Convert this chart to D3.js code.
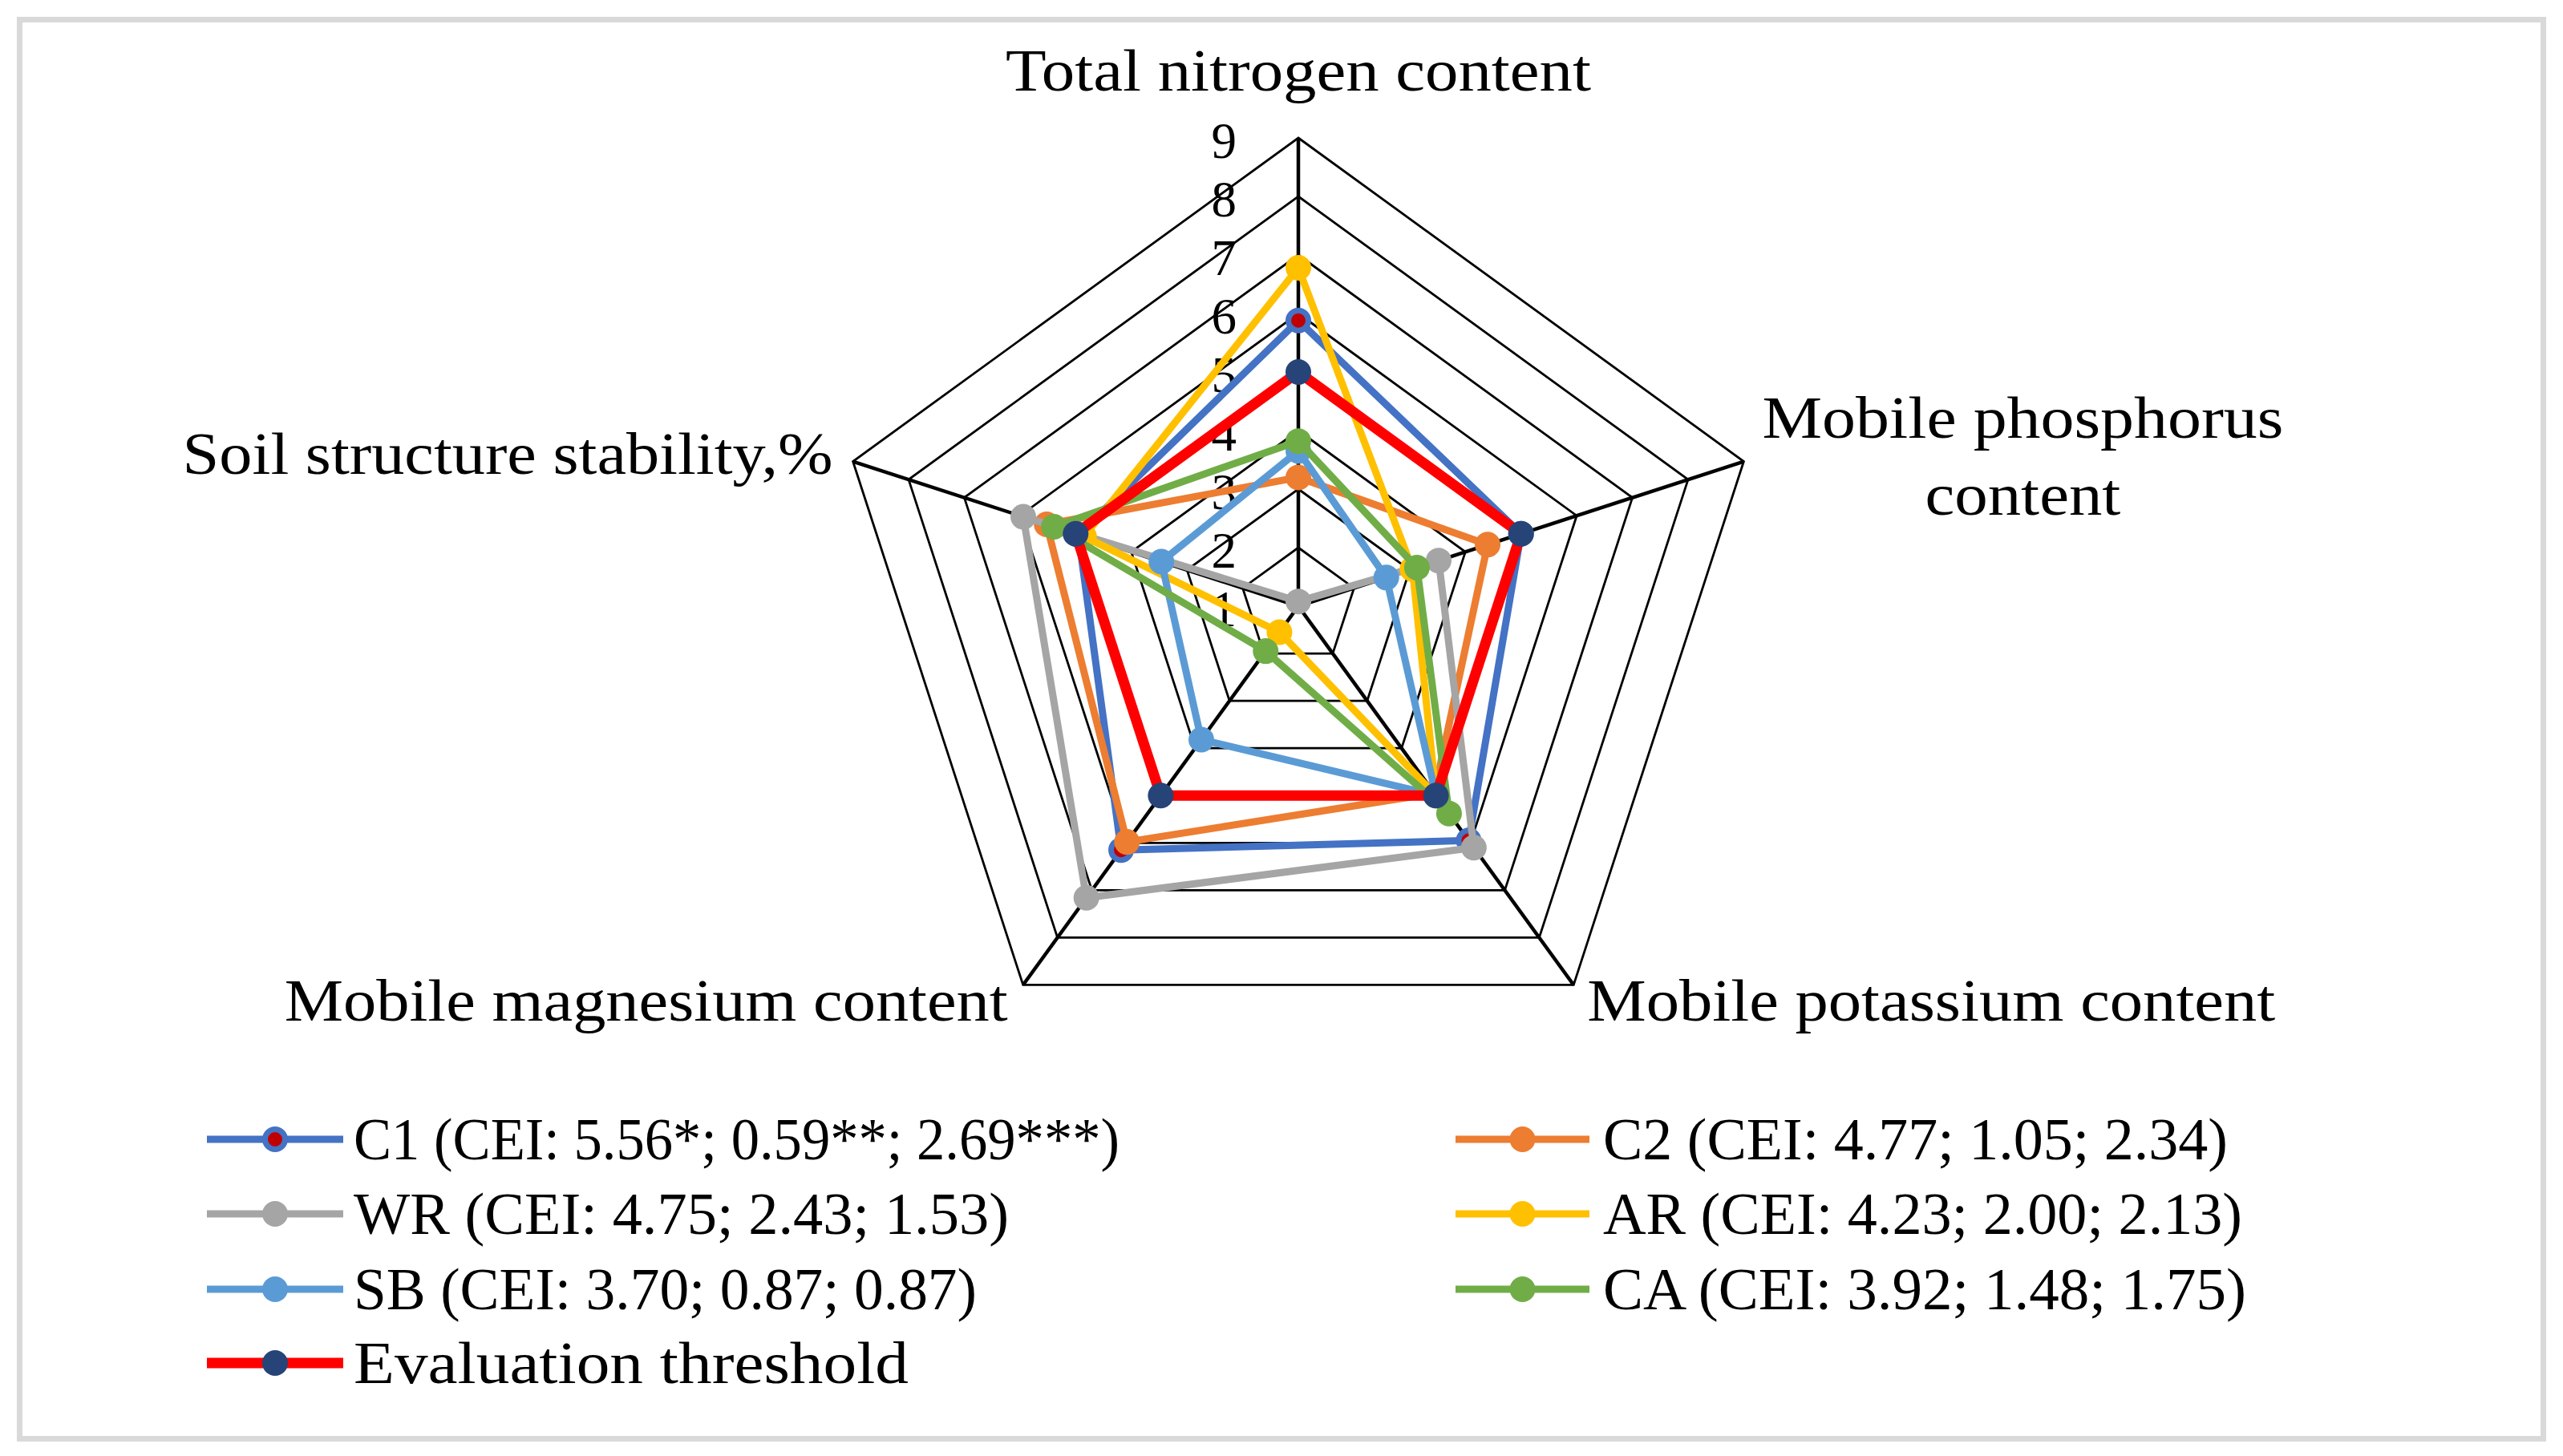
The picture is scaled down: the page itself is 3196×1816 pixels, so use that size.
<!DOCTYPE html>
<html><head><meta charset="utf-8">
<script src="https://cdn.jsdelivr.net/npm/d3@7"></script>
<style>html,body{margin:0;padding:0;background:#fff;} svg{display:block;}</style>
</head><body>
<script>
// ---------- DATA ----------
const categories = ["Total nitrogen content", "Mobile phosphorus content", "Mobile potassium content", "Mobile magnesium content", "Soil structure stability,%"];
const categoryLines = [["Total nitrogen content"], ["Mobile phosphorus", "content"], ["Mobile potassium content"], ["Mobile magnesium content"], ["Soil structure stability,%"]];
const tickValues = [1, 2, 3, 4, 5, 6, 7, 8, 9];
const seriesNames = ["C1 (CEI: 5.56*; 0.59**; 2.69***)", "C2 (CEI: 4.77; 1.05; 2.34)", "WR (CEI: 4.75; 2.43; 1.53)", "AR (CEI: 4.23; 2.00; 2.13)", "SB (CEI: 3.70; 0.87; 0.87)", "CA (CEI: 3.92; 1.48; 1.75)", "Evaluation threshold"];
const valuesC1 = [5.88, 5.00, 5.95, 6.15, 4.95];
const valuesC2 = [3.20, 4.40, 4.95, 5.98, 5.52];
const valuesWR = [1.08, 3.52, 6.10, 7.16, 5.94];
const valuesAR = [6.78, 3.05, 5.00, 1.55, 4.85];
const valuesSB = [3.65, 2.58, 5.00, 3.82, 3.46];
const valuesCA = [3.82, 3.13, 5.38, 1.95, 5.39];
const valuesThreshold = [5, 5, 5, 5, 5];

// ---------- STYLE / LAYOUT ----------
const W = 3196, H = 1816;
const cx = 1619, cy = 756, R = 584;
const FONT = "'Liberation Serif', 'Times New Roman', serif";
const styles = [
  {stroke: "#4472C4", width: 9, fill: "#C00000", mstroke: "#4472C4", mr: 12.5, msw: 7},
  {stroke: "#ED7D31", width: 9, fill: "#ED7D31", mstroke: "none", mr: 16, msw: 0},
  {stroke: "#A5A5A5", width: 9, fill: "#A5A5A5", mstroke: "none", mr: 16, msw: 0},
  {stroke: "#FFC000", width: 9, fill: "#FFC000", mstroke: "none", mr: 16, msw: 0},
  {stroke: "#5B9BD5", width: 9, fill: "#5B9BD5", mstroke: "none", mr: 16, msw: 0},
  {stroke: "#70AD47", width: 9, fill: "#70AD47", mstroke: "none", mr: 16, msw: 0},
  {stroke: "#FF0000", width: 13, fill: "#264478", mstroke: "none", mr: 16, msw: 0}
];
const allValues = [valuesC1, valuesC2, valuesWR, valuesAR, valuesSB, valuesCA, valuesThreshold];
const series = seriesNames.map((n, i) => ({name: n, values: allValues[i], style: styles[i]}));

const svg = d3.select("body").append("svg").attr("width", W).attr("height", H);
svg.append("rect").attr("width", W).attr("height", H).attr("fill", "#fff");
// outer frame
svg.append("rect").attr("x", 24.5).attr("y", 24.5).attr("width", W - 49).attr("height", H - 46)
  .attr("fill", "none").attr("stroke", "#D9D9D9").attr("stroke-width", 7);

const r = d3.scaleLinear().domain([1, 9]).range([0, R]);
const angle = d3.scalePoint().domain(d3.range(categories.length)).range([0, 2 * Math.PI * (categories.length - 1) / categories.length]);
const pt = (i, v) => { const a = angle(i), rr = r(v); return [cx + rr * Math.sin(a), cy - rr * Math.cos(a)]; };
const closed = d3.line().curve(d3.curveLinearClosed);

const g = svg.append("g");
// grid pentagons
g.selectAll("path.grid").data(tickValues.filter(v => v > 1)).join("path")
  .attr("class", "grid")
  .attr("d", v => closed(categories.map((c, i) => pt(i, v))))
  .attr("fill", "none").attr("stroke", "#000").attr("stroke-width", 2.8);
// spokes
g.selectAll("line.spoke").data(categories).join("line")
  .attr("class", "spoke")
  .attr("x1", cx).attr("y1", cy)
  .attr("x2", (c, i) => pt(i, 9)[0]).attr("y2", (c, i) => pt(i, 9)[1])
  .attr("stroke", "#000").attr("stroke-width", 4.5);

// tick labels
g.selectAll("text.tick").data(tickValues).join("text")
  .attr("class", "tick")
  .attr("x", cx - 77).attr("y", v => pt(0, v)[1] + 4)
  .attr("text-anchor", "end").attr("dominant-baseline", "central")
  .attr("font-family", FONT).attr("font-size", 63).attr("fill", "#000")
  .text(v => v);

// axis labels
const labelCfg = [
  {dx: 0, dy: -59, anchor: "middle", widths: [730]},
  {dx: 348, dy: -30, anchor: "middle", widths: [650, 244], lh: 96},
  {dx: 17, dy: 45, anchor: "start", widths: [858]},
  {dx: -19, dy: 45, anchor: "end", widths: [902]},
  {dx: -25, dy: 15, anchor: "end", widths: [811]}
];
categoryLines.forEach((lines, i) => {
  const [vx, vy] = pt(i, 9);
  const cfg = labelCfg[i];
  lines.forEach((t, j) => {
    g.append("text")
      .attr("x", vx + cfg.dx).attr("y", vy + cfg.dy + j * (cfg.lh || 0))
      .attr("text-anchor", cfg.anchor)
      .attr("font-family", FONT).attr("font-size", 74).attr("fill", "#000")
      .attr("textLength", cfg.widths[j]).attr("lengthAdjust", "spacingAndGlyphs")
      .text(t);
  });
});

// series
series.forEach(s => {
  const sg = svg.append("g");
  const pts = s.values.map((v, i) => pt(i, v));
  sg.append("path").attr("d", closed(pts)).attr("fill", "none")
    .attr("stroke", s.style.stroke).attr("stroke-width", s.style.width).attr("stroke-linejoin", "round");
  sg.selectAll("circle").data(pts).join("circle")
    .attr("cx", d => d[0]).attr("cy", d => d[1]).attr("r", s.style.mr)
    .attr("fill", s.style.fill).attr("stroke", s.style.mstroke).attr("stroke-width", s.style.msw);
});

// legend
const legCols = [{x0: 258, x1: 428, tx: 441}, {x0: 1815, x1: 1982, tx: 1999}];
const legRows = [1421, 1514, 1608, 1700];
const legWidths = [955, 779, 817, 797, 777, 802, 692];
const lg = svg.append("g");
series.forEach((s, i) => {
  const col = legCols[i % 2], y = legRows[Math.floor(i / 2)];
  lg.append("line").attr("x1", col.x0).attr("x2", col.x1).attr("y1", y).attr("y2", y)
    .attr("stroke", s.style.stroke).attr("stroke-width", s.style.width);
  lg.append("circle").attr("cx", (col.x0 + col.x1) / 2).attr("cy", y).attr("r", s.style.mr)
    .attr("fill", s.style.fill).attr("stroke", s.style.mstroke).attr("stroke-width", s.style.msw);
  lg.append("text").attr("x", col.tx).attr("y", y + 25)
    .attr("font-family", FONT).attr("font-size", 74).attr("fill", "#000")
    .attr("textLength", legWidths[i]).attr("lengthAdjust", "spacingAndGlyphs")
    .text(s.name);
});
</script>
</body></html>
